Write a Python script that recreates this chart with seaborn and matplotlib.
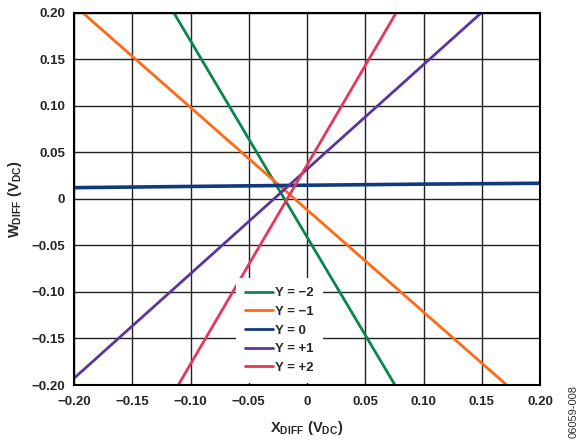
import matplotlib
matplotlib.use("Agg")
import matplotlib.pyplot as plt
import seaborn as sns
import pandas as pd

# Output W_DIFF versus input X_DIFF for several Y inputs
labels = ["Y = \u22122", "Y = \u22121", "Y = 0", "Y = +1", "Y = +2"]
# points along each transfer line (x, w)
x_pts = {
    "Y = \u22122": [-0.1142, 0.0755],
    "Y = \u22121": [-0.1923, 0.1714],
    "Y = 0": [-0.20, -0.10, 0.0, 0.10, 0.20],
    "Y = +1": [-0.20, 0.1494],
    "Y = +2": [-0.1105, 0.0764],
}
w_pts = {
    "Y = \u22122": [0.20, -0.20],
    "Y = \u22121": [0.20, -0.20],
    "Y = 0": [0.0122, 0.0135, 0.0148, 0.0160, 0.0169],
    "Y = +1": [-0.1928, 0.20],
    "Y = +2": [-0.20, 0.20],
}
colors = ["#07874A", "#FF6A13", "#0F3A80", "#5A34A0", "#E8365A"]

x_ticks = [-0.20, -0.15, -0.10, -0.05, 0, 0.05, 0.10, 0.15, 0.20]
x_tick_labels = ["\u22120.20", "\u22120.15", "\u22120.10", "\u22120.05", "0",
                 "0.05", "0.10", "0.15", "0.20"]
y_ticks = [-0.20, -0.15, -0.10, -0.05, 0, 0.05, 0.10, 0.15, 0.20]
y_tick_labels = x_tick_labels

rows = []
for lab in labels:
    for xv, wv in zip(x_pts[lab], w_pts[lab]):
        rows.append({"x": xv, "w": wv, "series": lab})
df = pd.DataFrame(rows)

sns.set_style("white")
plt.rcParams["font.family"] = ["Liberation Sans", "DejaVu Sans"]
plt.rcParams["mathtext.fontset"] = "custom"
plt.rcParams["mathtext.bf"] = "Liberation Sans:bold"
plt.rcParams["mathtext.rm"] = "Liberation Sans"

fig = plt.figure(figsize=(5.81, 4.43), dpi=100)
ax = fig.add_axes([74 / 581, 1 - 385 / 443, 466 / 581, 372 / 443])

sns.lineplot(data=df, x="x", y="w", hue="series", hue_order=labels,
             palette=colors, linewidth=2.0, ax=ax, sort=False,
             estimator=None, legend=True)
for line, lab in zip(ax.get_lines(), labels):
    if lab == "Y = 0":
        line.set_linewidth(2.6)

ax.set_xlim(-0.20, 0.20)
ax.set_ylim(-0.20, 0.20)
ax.set_xticks(x_ticks)
ax.set_xticklabels(x_tick_labels, fontweight="bold", fontsize=9.5)
ax.set_yticks(y_ticks)
ax.set_yticklabels(y_tick_labels, fontweight="bold", fontsize=9.5)
ax.tick_params(axis="x", length=0, pad=8)
ax.tick_params(axis="y", length=0, pad=6.5)
ax.grid(True, color="#222222", linewidth=1.0)
ax.set_axisbelow(True)
for sp in ax.spines.values():
    sp.set_color("black")
    sp.set_linewidth(1.5)
    sp.set_zorder(5)

ax.set_xlabel(r"X$_{\mathbf{DIFF}}$ (V$_{\mathbf{DC}}$)", fontweight="bold",
              fontsize=10.5, labelpad=8)
ax.set_ylabel(r"W$_{\mathbf{DIFF}}$ (V$_{\mathbf{DC}}$)", fontweight="bold",
              fontsize=10.5, labelpad=5)

leg = ax.legend(loc="upper left", bbox_to_anchor=(236 / 581, 1 - 278 / 443),
                bbox_transform=fig.transFigure, frameon=True, fancybox=False,
                framealpha=1, facecolor="white", edgecolor="none",
                borderpad=0.7, handlelength=2.1, handletextpad=0.15,
                labelspacing=0.48, borderaxespad=0,
                prop={"weight": "bold", "size": 9.5})
leg.set_zorder(4)
for h in leg.get_lines():
    h.set_linewidth(2.0)

fig.text(574 / 581, 1 - 411 / 443, "06059-008", rotation=90, fontsize=8,
         ha="center", va="center", color="#333333")

fig.savefig("out.png", dpi=100)
